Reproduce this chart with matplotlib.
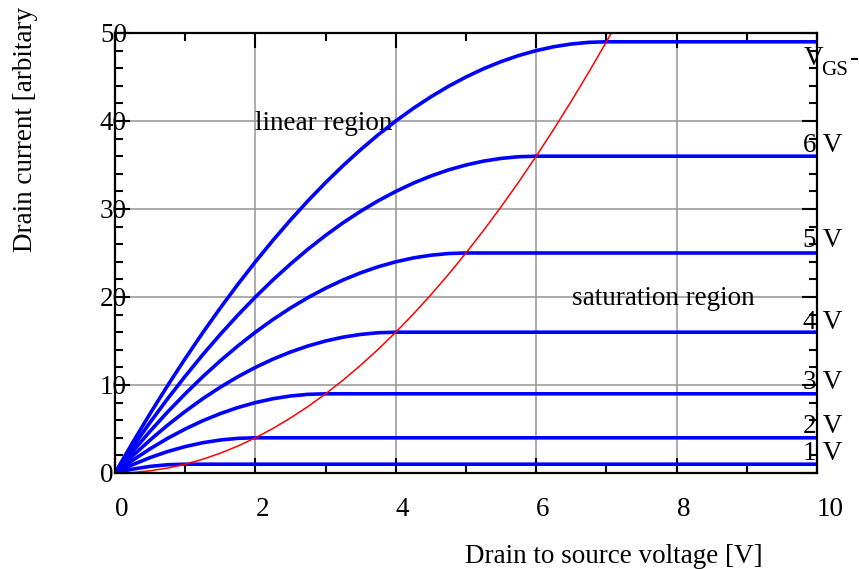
import matplotlib
matplotlib.use("Agg")
import matplotlib.pyplot as plt
import matplotlib.transforms as mtransforms
from matplotlib.ticker import MultipleLocator

plt.rcParams['font.family'] = ['Liberation Serif', 'DejaVu Serif']

# ---- data ----
# drain-source voltage samples (V)
vds = [0, 0.25, 0.5, 0.75, 1, 1.25, 1.5, 1.75, 2, 2.25, 2.5, 2.75, 3, 3.25, 3.5,
       3.75, 4, 4.25, 4.5, 4.75, 5, 5.25, 5.5, 5.75, 6, 6.25, 6.5, 6.75, 7, 7.25]
vds_end = 10

# drain current up to the saturation point, for each V_GS - V_th (flat afterwards)
id_1v = [0, 0.44, 0.75, 0.94, 1]
id_2v = [0, 0.94, 1.75, 2.44, 3, 3.44, 3.75, 3.94, 4]
id_3v = [0, 1.44, 2.75, 3.94, 5, 5.94, 6.75, 7.44, 8, 8.44, 8.75, 8.94, 9]
id_4v = [0, 1.94, 3.75, 5.44, 7, 8.44, 9.75, 10.94, 12, 12.94, 13.75, 14.44, 15,
         15.44, 15.75, 15.94, 16]
id_5v = [0, 2.44, 4.75, 6.94, 9, 10.94, 12.75, 14.44, 16, 17.44, 18.75, 19.94, 21,
         21.94, 22.75, 23.44, 24, 24.44, 24.75, 24.94, 25]
id_6v = [0, 2.94, 5.75, 8.44, 11, 13.44, 15.75, 17.94, 20, 21.94, 23.75, 25.44, 27,
         28.44, 29.75, 30.94, 32, 32.94, 33.75, 34.44, 35, 35.44, 35.75, 35.94, 36]
id_7v = [0, 3.44, 6.75, 9.94, 13, 15.94, 18.75, 21.44, 24, 26.44, 28.75, 30.94, 33,
         34.94, 36.75, 38.44, 40, 41.44, 42.75, 43.94, 45, 45.94, 46.75, 47.44, 48,
         48.44, 48.75, 48.94, 49]
curves = [id_1v, id_2v, id_3v, id_4v, id_5v, id_6v, id_7v]

# boundary between linear and saturation region
id_sat = [0, 0.06, 0.25, 0.56, 1, 1.56, 2.25, 3.06, 4, 5.06, 6.25, 7.56, 9, 10.56,
          12.25, 14.06, 16, 18.06, 20.25, 22.56, 25, 27.56, 30.25, 33.06, 36, 39.06,
          42.25, 45.56, 49, 52.56]

curve_labels = ["1 V", "2 V", "3 V", "4 V", "5 V", "6 V"]
label_y = [1.5, 4.5, 9.5, 16.4, 25.7, 36.5]

xticks = [0, 2, 4, 6, 8, 10]
yticks = [0, 10, 20, 30, 40, 50]

# ---- figure ----
W, H = 859, 569
fig = plt.figure(figsize=(W / 100, H / 100), dpi=100)
ax = fig.add_axes([115 / W, 1 - 473 / H, (817 - 115) / W, (473 - 33) / H])

FS = 19.5

ax.grid(True, which='major', color='#949494', linewidth=1.1, zorder=1)
ax.set_axisbelow(True)

for c in curves:
    n = len(c)
    ax.plot(vds[:n] + [vds_end], c + [c[-1]], color='#0000ff', linewidth=2.6,
            zorder=3, solid_capstyle='butt', solid_joinstyle='round')
ax.plot(vds, id_sat, color='#ff0000', linewidth=1.1, zorder=4)

ax.set_xlim(0, 10)
ax.set_ylim(0, 50)
ax.set_xticks(xticks)
ax.set_yticks(yticks)
ax.xaxis.set_minor_locator(MultipleLocator(1))
ax.yaxis.set_minor_locator(MultipleLocator(2))

ax.tick_params(which='both', direction='in', top=True, right=True,
               width=1.5, color='black')
ax.tick_params(which='major', length=11)
ax.tick_params(which='minor', length=6)
ax.tick_params(axis='x', which='major', pad=17, labelsize=FS)
ax.tick_params(axis='y', which='major', pad=10.8, labelsize=FS)

for lab in ax.get_xticklabels():
    lab.set_horizontalalignment('left')
for lab in ax.get_yticklabels():
    lab.set_horizontalalignment('left')
    lab.set_transform(lab.get_transform() +
                      mtransforms.ScaledTranslation(0, 1 / 100, fig.dpi_scale_trans))

for sp in ax.spines.values():
    sp.set_linewidth(1.6)
    sp.set_zorder(5)

# curve labels on the right
lab_trans = mtransforms.blended_transform_factory(fig.transFigure, ax.transData)
for txt, yv in zip(curve_labels, label_y):
    ax.text(803 / W, yv, txt, transform=lab_trans, fontsize=FS,
            ha='left', va='baseline', clip_on=False, zorder=6)

# "V_GS-" header (cut by the figure edge, as in the original)
fig.text(804 / W, 1 - 65 / H, "V", fontsize=FS, ha='left', va='baseline')
fig.text(821 / W, 1 - 75 / H, "GS", fontsize=FS * 0.78, ha='left', va='baseline')
fig.text(850 / W, 1 - 65 / H, "-", fontsize=FS, ha='left', va='baseline')

ax.text(2.0, 39.0, "linear region", fontsize=FS, ha='left', va='baseline', zorder=2)
ax.text(6.51, 19.1, "saturation region", fontsize=FS, ha='left', va='baseline', zorder=2)

fig.text(465 / W, 1 - 563 / H, "Drain to source voltage [V]", fontsize=FS,
         ha='left', va='baseline')
fig.text(32 / W, 1 - 252 / H, "Drain current [arbitary", fontsize=FS,
         rotation=90, rotation_mode='anchor', ha='left', va='baseline')

fig.savefig("out.png", dpi=100)
